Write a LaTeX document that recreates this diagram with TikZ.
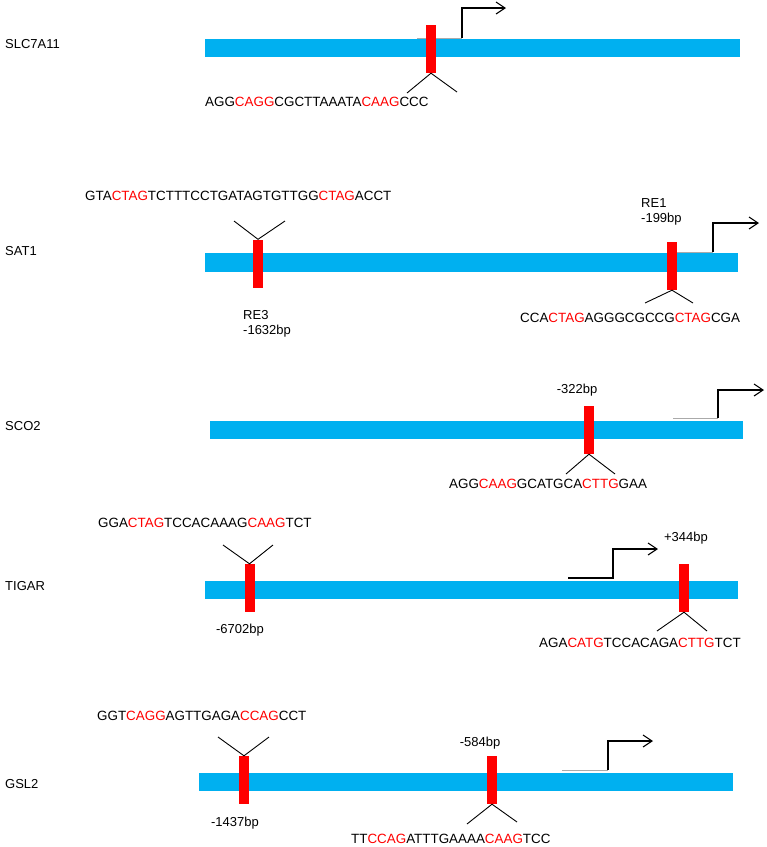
\documentclass[tikz,border=0pt]{standalone}
\usepackage{fontspec}
\setmainfont{Liberation Sans}
\usetikzlibrary{arrows.meta}
\definecolor{barblue}{RGB}{0,176,240}
\definecolor{mkred}{RGB}{255,0,0}
\definecolor{tssgray}{RGB}{170,170,170}
\newcommand\redpart[1]{\textcolor{mkred}{#1}}
\tikzset{
  genebar/.style={fill=barblue,draw=none},
  markbox/.style={fill=mkred,draw=none,minimum width=10pt,minimum height=48pt,inner sep=0pt},
  seq/.style={font=\fontsize{13.4}{15}\selectfont,inner sep=0pt,anchor=base west},
  lbl/.style={font=\fontsize{13}{15}\selectfont,inner sep=0pt},
  vline/.style={draw=black,line width=0.9pt},
  tssgrey/.style={draw=tssgray,line width=1pt},
  tss/.style={draw=black,line width=1.1pt,-{Straight Barb[length=9pt,width=12pt,line width=1.1pt]}},
}
\begin{document}
\begin{tikzpicture}[x=1pt,y=-1pt]
\useasboundingbox[fill=white] (0,0) rectangle (767,847);

% ---------------- SLC7A11 ----------------
\node[lbl,anchor=base west] (g1) at (5,48) {SLC7A11};
\fill[genebar] (205,39) rectangle (740,57);
\coordinate (t1a) at (417,38);
\coordinate (t1b) at (462,38);
\coordinate (t1c) at (462,8);
\coordinate (t1d) at (506,8);
\draw[tssgrey] (t1a) -- (t1b);
\draw[tss] (t1b) -- (t1c) -- (t1d);
\node[markbox] (m1) at (431,49) {};
\coordinate (v1l) at (407,93);
\coordinate (v1r) at (457,92);
\draw[vline] (v1l) -- (m1.south) -- (v1r);
\node[seq] (s1) at (205,106) {AGG\redpart{CAGG}CGCTTAAATA\redpart{CAAG}CCC};

% ---------------- SAT1 ----------------
\node[lbl,anchor=base west] (g2) at (5,255) {SAT1};
\node[seq] (s2a) at (85,200) {GTA\redpart{CTAG}TCTTTCCTGATAGTGTTGG\redpart{CTAG}ACCT};
\fill[genebar] (205,253) rectangle (738,272);
\node[markbox] (m2a) at (258,263.5) {};
\coordinate (v2al) at (234,221);
\coordinate (v2ar) at (285,221);
\draw[vline] (v2al) -- (m2a.north) -- (v2ar);
\node[lbl,anchor=base west] (re3) at (243,319) {RE3};
\node[lbl,anchor=base west] (bp3) at (243,334) {-1632bp};
\coordinate (t2a) at (677,252);
\coordinate (t2b) at (713,252);
\coordinate (t2c) at (713,223);
\coordinate (t2d) at (759,223);
\draw[tssgrey] (t2a) -- (t2b);
\draw[tss] (t2b) -- (t2c) -- (t2d);
\node[markbox] (m2b) at (672,266) {};
\coordinate (v2bl) at (645,303);
\coordinate (v2br) at (693,303);
\draw[vline] (v2bl) -- (m2b.south) -- (v2br);
\node[lbl,anchor=base west] (re1) at (641,207) {RE1};
\node[lbl,anchor=base west] (bp1) at (641,222) {-199bp};
\node[seq] (s2b) at (520,322) {CCA\redpart{CTAG}AGGGCGCCG\redpart{CTAG}CGA};

% ---------------- SCO2 ----------------
\node[lbl,anchor=base west] (g3) at (5,430) {SCO2};
\fill[genebar] (210,421) rectangle (743,439);
\coordinate (t3a) at (673,418);
\coordinate (t3b) at (718,418);
\coordinate (t3c) at (718,390);
\coordinate (t3d) at (764,390);
\draw[tssgrey] (t3a) -- (t3b);
\draw[tss] (t3b) -- (t3c) -- (t3d);
\node[markbox] (m3) at (589,430) {};
\node[lbl,anchor=base] (bp322) at (577,393) {-322bp};
\coordinate (v3l) at (566,474);
\coordinate (v3r) at (615,474);
\draw[vline] (v3l) -- (m3.south) -- (v3r);
\node[seq] (s3) at (449,488) {AGG\redpart{CAAG}GCATGCA\redpart{CTTG}GAA};

% ---------------- TIGAR ----------------
\node[lbl,anchor=base west] (g4) at (5,590) {TIGAR};
\node[seq] (s4a) at (98,527) {GGA\redpart{CTAG}TCCACAAAG\redpart{CAAG}TCT};
\fill[genebar] (205,581) rectangle (738,599);
\node[markbox] (m4a) at (249.5,588) {};
\coordinate (v4al) at (223,545);
\coordinate (v4ar) at (273,545);
\draw[vline] (v4al) -- (m4a.north) -- (v4ar);
\node[lbl,anchor=base] (bp6702) at (240,633) {-6702bp};
\coordinate (t4a) at (568,578);
\coordinate (t4b) at (613,578);
\coordinate (t4c) at (613,549);
\coordinate (t4d) at (658,549);
\draw[tss] (t4a) -- (t4b) -- (t4c) -- (t4d);
\node[lbl,anchor=base] (bp344) at (686,541) {+344bp};
\node[markbox] (m4b) at (684,588) {};
\coordinate (v4bl) at (657,631);
\coordinate (v4br) at (707,631);
\draw[vline] (v4bl) -- (m4b.south) -- (v4br);
\node[seq] (s4b) at (539,647) {AGA\redpart{CATG}TCCACAGA\redpart{CTTG}TCT};

% ---------------- GSL2 ----------------
\node[lbl,anchor=base west] (g5) at (5,788) {GSL2};
\node[seq] (s5a) at (97,720) {GGT\redpart{CAGG}AGTTGAGA\redpart{CCAG}CCT};
\fill[genebar] (199,773) rectangle (733,791);
\node[markbox] (m5a) at (244,780) {};
\coordinate (v5al) at (218,737);
\coordinate (v5ar) at (269,737);
\draw[vline] (v5al) -- (m5a.north) -- (v5ar);
\node[lbl,anchor=base] (bp1437) at (235,826) {-1437bp};
\node[markbox] (m5b) at (492,780) {};
\node[lbl,anchor=base] (bp584) at (480,746) {-584bp};
\coordinate (v5bl) at (467,824);
\coordinate (v5br) at (517,822);
\draw[vline] (v5bl) -- (m5b.south) -- (v5br);
\node[seq] (s5b) at (351,843) {TT\redpart{CCAG}ATTTGAAAA\redpart{CAAG}TCC};
\coordinate (t5a) at (562,770);
\coordinate (t5b) at (608,770);
\coordinate (t5c) at (608,741);
\coordinate (t5d) at (653,741);
\draw[tssgrey] (t5a) -- (t5b);
\draw[tss] (t5b) -- (t5c) -- (t5d);
\end{tikzpicture}
\end{document}
